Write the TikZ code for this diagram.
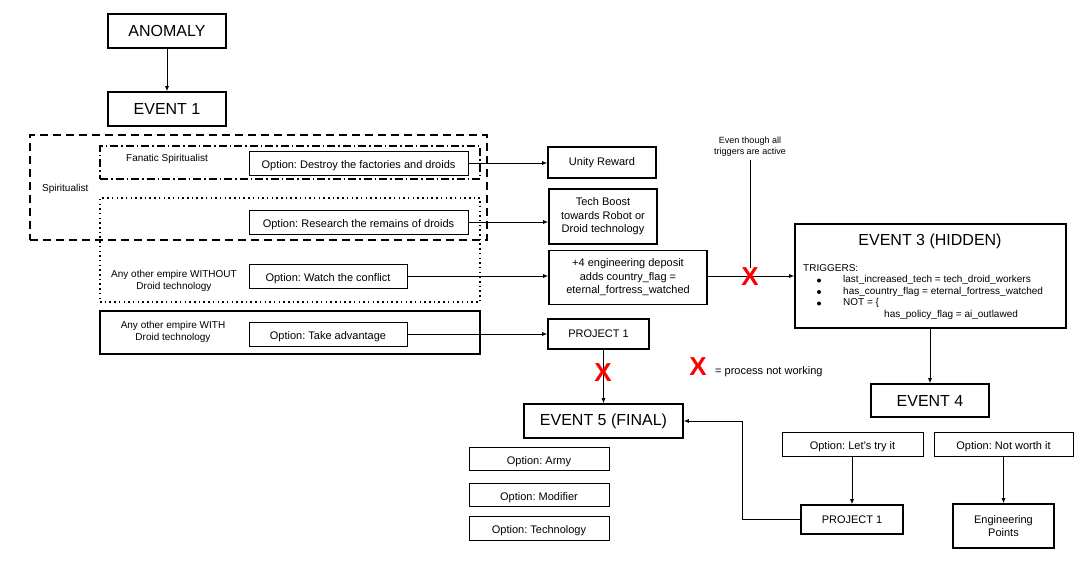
\documentclass[tikz,border=0pt]{standalone}
\usepackage{fontspec}
\setmainfont{Liberation Sans}
\usetikzlibrary{arrows.meta}
\frenchspacing
\begin{document}
\frenchspacing
\begin{tikzpicture}[x=1pt,y=-1pt,
  box/.style={draw,line width=1.6pt,inner sep=0pt,align=center,font=\fontsize{11}{13.5}\selectfont},
  big/.style={box,font=\fontsize{16}{19}\selectfont},
  opt/.style={draw,line width=0.9pt,inner sep=0pt,align=center,text height=13pt,text depth=2pt,font=\fontsize{11}{13}\selectfont},
  grp/.style={draw,line width=1.5pt,inner sep=0pt},
  lbl/.style={inner sep=0pt,align=center,font=\fontsize{10}{12}\selectfont},
  arr/.style={-{Latex[length=5pt,width=4pt]},line width=0.8pt},
  ln/.style={line width=0.8pt},
  dot/.style={circle,fill,inner sep=0pt,minimum size=4pt},
  redx/.style={inner sep=0pt,text=red,font=\fontsize{26}{26}\bfseries\selectfont}
]
\useasboundingbox (0,0) rectangle (1091,576);
% groups
\node[grp,dash pattern=on 8pt off 5pt,line width=1.8pt,minimum width=457pt,minimum height=105pt] (spirit) at (258.5,187.5) {};
\node[grp,dash pattern=on 8pt off 3pt on 1.5pt off 3pt,minimum width=380pt,minimum height=33pt] (fanatic) at (290,162.5) {};
\node[grp,dash pattern=on 1.5pt off 3.2pt,minimum width=380pt,minimum height=104pt] (dotted) at (290,250) {};
\node[grp,minimum width=380pt,minimum height=43pt] (withbox) at (290,332.5) {};
\node[lbl,anchor=west] (lspirit) at (42,189) {Spiritualist};
\node[lbl] (lfanatic) at (167,159) {Fanatic Spiritualist};
\node[lbl] (lwithout) at (174,281) {Any other empire WITHOUT\\Droid technology};
\node[lbl] (lwith) at (173,332) {Any other empire WITH\\Droid technology};
% top
\node[big,minimum width=118pt,minimum height=34pt] (anomaly) at (167,31) {ANOMALY};
\node[big,minimum width=118pt,minimum height=34pt] (ev1) at (167,109) {EVENT 1};
% options
\node[opt,minimum width=219pt,minimum height=24pt] (odestroy) at (358.5,163) {Option: Destroy the factories and droids};
\node[opt,minimum width=219pt,minimum height=24pt] (oresearch) at (358.5,222) {Option: Research the remains of droids};
\node[opt,minimum width=158pt,minimum height=24pt] (owatch) at (328,276) {Option: Watch the conflict};
\node[opt,minimum width=158pt,minimum height=24pt] (otake) at (328,334) {Option: Take advantage};
% results
\node[box,minimum width=108pt,minimum height=31pt] (unity) at (602,162.5) {Unity Reward};
\node[box,minimum width=108pt,minimum height=55pt] (tech) at (603,216.5) {Tech Boost\\towards Robot or\\Droid technology};
\node[box,minimum width=158pt,minimum height=54pt] (eng4) at (628,277.5) {+4 engineering deposit\\adds country\_flag =\\eternal\_fortress\_watched};
\node[box,minimum width=101pt,minimum height=30pt] (proja) at (598.5,334) {PROJECT 1};
% event 3
\node[box,minimum width=271pt,minimum height=104pt] (ev3) at (930.5,276) {};
\node[inner sep=0pt,font=\fontsize{16}{19}\selectfont] (ev3t) at (930,241) {EVENT 3 (HIDDEN)};
\begin{scope}[every node/.style={inner sep=0pt,anchor=west,font=\fontsize{10}{11}\selectfont}]
\node (trig) at (803,268) {TRIGGERS:};
\node (t1) at (843,280) {last\_increased\_tech = tech\_droid\_workers};
\node (t2) at (843,291.5) {has\_country\_flag = eternal\_fortress\_watched};
\node (t3) at (843,303) {NOT = \{};
\node (t4) at (884,314.5) {has\_policy\_flag = ai\_outlawed};
\end{scope}
\node[dot] (b1) at (819,280.5) {};
\node[dot] (b2) at (819,292) {};
\node[dot] (b3) at (819,303.5) {};
% note
\node[lbl,font=\fontsize{9}{11}\selectfont] (note) at (750,146.5) {Even though all\\triggers are active};
% event 4 etc
\node[big,minimum width=118pt,minimum height=33pt] (ev4) at (930,400.5) {EVENT 4};
\node[opt,minimum width=141pt,minimum height=24pt] (otry) at (852.5,444) {Option: Let’s try it};
\node[opt,minimum width=139pt,minimum height=24pt] (onot) at (1003.5,444) {Option: Not worth it};
\node[box,minimum width=102pt,minimum height=29pt] (projb) at (852,519.5) {PROJECT 1};
\node[box,minimum width=101pt,minimum height=44pt] (engpts) at (1003.5,526) {Engineering\\Points};
\node[big,minimum width=159pt,minimum height=34pt] (ev5) at (603.5,421) {EVENT 5 (FINAL)};
\node[opt,minimum width=140pt,minimum height=23pt] (oarmy) at (539,458.5) {Option: Army};
\node[opt,minimum width=140pt,minimum height=23pt] (omod) at (539,494.5) {Option: Modifier};
\node[opt,minimum width=140pt,minimum height=24pt] (otech) at (539,528) {Option: Technology};
% connectors
\draw[arr] (anomaly) -- (ev1);
\draw[arr] (odestroy.east) -- (odestroy.east -| unity.west);
\draw[arr] (oresearch.east) -- (oresearch.east -| tech.west);
\draw[arr] (owatch.east) -- (owatch.east -| eng4.west);
\draw[arr] (eng4.east |- owatch.east) -- (owatch.east -| ev3.west);
\draw[arr] (otake.east) -- (otake.east -| proja.west);
\draw[arr] (ev5.north |- proja.south) -- (ev5.north);
\draw[arr] (ev3.south -| ev4.north) -- (ev4.north);
\draw[arr] (otry.south -| projb.north) -- (projb.north);
\draw[arr] (onot.south -| engpts.north) -- (engpts.north);
\draw[arr] (projb.west) -- ++(-58,0) |- (ev5.east);
% red X marks
\node[redx] (x1) at (750,277) {X};
\draw[ln] (note.south) ++(0,4) -- (x1.north);
\node[redx] (x2) at (603,373) {X};
\node[redx] (x3) at (698,367) {X};
\node[inner sep=0pt,anchor=west,font=\fontsize{11}{12}\selectfont] (legend) at (715,372) {= process not working};
\end{tikzpicture}
\end{document}
